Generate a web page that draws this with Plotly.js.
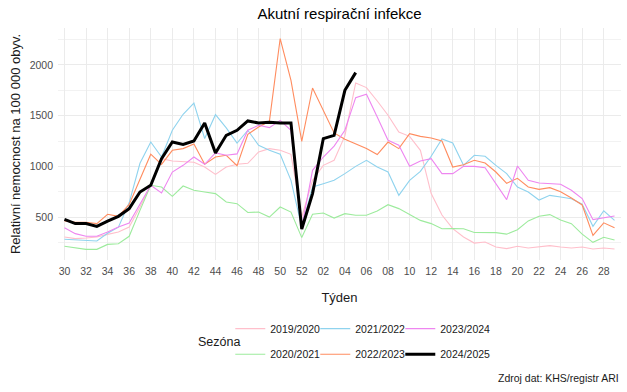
<!DOCTYPE html>
<html>
<head>
<meta charset="utf-8">
<script src="https://cdn.plot.ly/plotly-3.0.1.min.js"></script>
<style>
  html, body { margin: 0; padding: 0; background: #ffffff; }
  #chart { width: 627px; height: 392px; }
</style>
</head>
<body>
<div id="chart"></div>
<script>
// Week labels of a season (week 30 to week 29 of next year)
const weeks = ['30','31','32','33','34','35','36','37','38','39','40','41','42','43','44','45','46','47','48','49','50','51','52',
               '01','02','03','04','05','06','07','08','09','10','11','12','13','14','15','16','17','18','19','20','21','22','23','24','25','26','27','28','29'];
const tickWeeks = ['30','32','34','36','38','40','42','44','46','48','50','52','02','04','06','08','10','12','14','16','18','20','22','24','26','28'];

const seasons = ['2019/2020','2020/2021','2021/2022','2022/2023','2023/2024','2024/2025'];

const s2019 = [303,287,293,303,329,352,401,599,813,1076,1053,1050,1040,993,921,993,1020,1030,1142,1175,1158,1119,500,
               862,1010,1060,1300,1823,1777,1645,1504,1339,1296,1158,731,520,385,303,243,253,204,188,211,194,204,218,204,194,204,184,194,184];
const s2020 = [211,198,181,181,230,237,310,566,813,796,704,806,764,747,731,648,632,545,549,500,599,549,297,
               527,540,490,533,517,517,559,622,583,527,467,435,385,387,385,348,346,346,331,375,462,508,524,470,435,331,250,300,273];
const s2021 = [280,273,270,263,340,400,640,1030,1240,1092,1356,1514,1625,1274,1510,1380,1230,1356,1208,1158,1119,862,401,
               796,829,862,928,1000,1060,993,944,714,862,950,1100,1270,1230,1010,1109,1099,1010,928,796,747,668,714,697,680,627,408,562,467];
const s2022 = [462,448,448,435,527,507,625,869,1120,1020,1158,1175,1220,1020,1092,1109,1007,1316,1388,1444,2261,1849,1247,
               1773,1553,1330,1267,1224,1175,1116,1240,1175,1323,1296,1280,1250,993,1015,1060,1033,944,833,882,797,773,790,749,687,619,319,443,395];
const s2023 = [395,336,310,310,352,401,441,632,813,737,944,1010,1092,1020,1132,1109,1123,1356,1405,1382,1454,1356,401,
               961,1092,1200,1356,1678,1711,1487,1257,1208,1000,1053,1076,928,928,1000,1000,987,829,672,1003,862,836,829,823,764,682,474,494,510];
const s2024 = [477,435,435,408,460,507,583,747,813,1076,1240,1217,1250,1428,1132,1306,1356,1448,1428,1435,1428,1428,382,
               731,1274,1306,1750,1925];

const seriesValues = [s2019, s2020, s2021, s2022, s2023, s2024];
const seriesColors = ['#FFBFCB','#9DEB9D','#8FD3EE','#FF8C5F','#EE86F0','#000000'];
const seriesWidths = [1.1, 1.1, 1.1, 1.1, 1.1, 3];
const seriesLegend = ['legend','legend2','legend','legend2','legend','legend2'];
// last entry of each legend row gets extra room so its label is not clipped
const seriesLegendWidth = [40, 40, 40, 40, 60, 60];

const traces = seasons.map((name, k) => ({
  type: 'scatter',
  mode: 'lines',
  name: name,
  x: weeks.slice(0, seriesValues[k].length),
  y: seriesValues[k],
  line: { color: seriesColors[k], width: seriesWidths[k] },
  legend: seriesLegend[k],
  legendwidth: seriesLegendWidth[k],
  hoverinfo: 'skip'
}));

const fontFam = 'Liberation Sans, Arial, sans-serif';
const legendCommon = {
  orientation: 'h',
  xanchor: 'left',
  yanchor: 'middle',
  x: 0.306,
  font: { family: fontFam, size: 10.5, color: '#1A1A1A' },
  entrywidth: 40,
  entrywidthmode: 'pixels',
  bgcolor: 'rgba(0,0,0,0)',
  itemclick: false,
  itemdoubleclick: false
};

const layout = {
  width: 627,
  height: 392,
  margin: { l: 58, r: 6, t: 28, b: 132 },
  paper_bgcolor: '#ffffff',
  plot_bgcolor: '#ffffff',
  font: { family: fontFam, color: '#1A1A1A' },
  showlegend: true,
  title: {
    text: 'Akutní respirační infekce',
    font: { family: fontFam, size: 15, color: '#000000' },
    xref: 'paper', x: 0.5, xanchor: 'center',
    yref: 'container', y: 0.964, yanchor: 'middle'
  },
  xaxis: {
    type: 'category',
    categoryorder: 'array',
    categoryarray: weeks,
    range: [-0.6, 51.6],
    tickmode: 'array',
    tickvals: tickWeeks,
    ticktext: tickWeeks,
    tickfont: { family: fontFam, size: 10.5, color: '#4D4D4D' },
    ticklabelstandoff: 3,
    showgrid: true,
    gridcolor: '#EBEBEB',
    gridwidth: 1,
    zeroline: false,
    showline: false,
    ticks: '',
    title: { text: 'Týden', font: { family: fontFam, size: 13, color: '#1A1A1A' }, standoff: 17 }
  },
  yaxis: {
    range: [76, 2365],
    tickvals: [500, 1000, 1500, 2000],
    tickfont: { family: fontFam, size: 10.5, color: '#4D4D4D' },
    ticklabelstandoff: 4,
    showgrid: true,
    gridcolor: '#EBEBEB',
    gridwidth: 1,
    minor: { tickvals: [250, 750, 1250, 1750, 2250], showgrid: true, gridcolor: '#EFEFEF', gridwidth: 0.8 },
    zeroline: false,
    showline: false,
    ticks: '',
    title: { text: 'Relativní nemocnost na 100 000 obyv.', font: { family: fontFam, size: 13, color: '#1A1A1A' }, standoff: 6 }
  },
  legend: Object.assign({}, legendCommon, { y: -0.2957 }),
  legend2: Object.assign({}, legendCommon, { y: -0.4065 }),
  annotations: [
    {
      text: 'Sezóna', xref: 'paper', yref: 'paper', x: 0.246, y: -0.3547,
      xanchor: 'left', yanchor: 'middle', showarrow: false,
      font: { family: fontFam, size: 12.5, color: '#1A1A1A' }
    },
    {
      text: 'Zdroj dat: KHS/registr ARI', xref: 'paper', yref: 'paper', x: 1, y: -0.51,
      xanchor: 'right', yanchor: 'middle', showarrow: false,
      font: { family: fontFam, size: 10.5, color: '#1A1A1A' }
    }
  ]
};

Plotly.newPlot('chart', traces, layout, { displayModeBar: false, staticPlot: true });
</script>
</body>
</html>
